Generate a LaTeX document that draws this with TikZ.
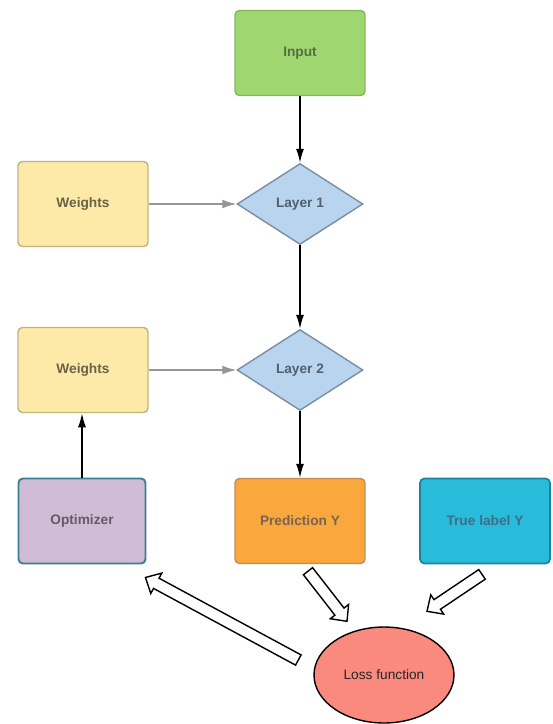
\documentclass[tikz,border=0pt]{standalone}
\usepackage{fontspec}
\setmainfont{Liberation Sans}
\usetikzlibrary{shapes.geometric,arrows.meta,calc}

\definecolor{inputfill}{RGB}{160,214,112}
\definecolor{inputdraw}{RGB}{128,184,92}
\definecolor{inputtext}{RGB}{84,112,62}
\definecolor{wfill}{RGB}{253,233,168}
\definecolor{wdraw}{RGB}{196,178,124}
\definecolor{wtext}{RGB}{104,100,70}
\definecolor{layerfill}{RGB}{184,212,238}
\definecolor{layerdraw}{RGB}{122,142,162}
\definecolor{layertext}{RGB}{82,96,112}
\definecolor{optfill}{RGB}{208,188,212}
\definecolor{optdraw}{RGB}{58,128,148}
\definecolor{opttext}{RGB}{100,90,106}
\definecolor{predfill}{RGB}{250,168,62}
\definecolor{preddraw}{RGB}{196,140,84}
\definecolor{predtext}{RGB}{122,100,80}
\definecolor{truefill}{RGB}{40,188,218}
\definecolor{truedraw}{RGB}{28,130,158}
\definecolor{truetext}{RGB}{60,110,140}
\definecolor{lossfill}{RGB}{250,138,125}
\definecolor{feedgray}{RGB}{150,150,150}

\tikzset{
  lbl/.style={font=\fontsize{7.8}{9}\selectfont\bfseries},
  box/.style={lbl, rectangle, rounded corners=2.5pt, minimum width=2.6cm, minimum height=1.7cm, line width=0.8pt},
  layer/.style={lbl, diamond, aspect=1.55, minimum width=2.52cm, minimum height=1.62cm, inner sep=0pt,
    fill=layerfill, draw=layerdraw, line width=0.8pt, text=layertext},
  flow/.style={-{Latex[length=8pt,width=4.6pt]}, line width=0.9pt},
  feed/.style={-{Latex[length=8pt,width=5pt]}, line width=0.7pt, draw=feedgray, fill=feedgray},
}

% hollow arrow from #1 to #2
\newcommand{\hollowarrow}[2]{%
  \coordinate (ha-s) at (#1);
  \coordinate (ha-t) at (#2);
  \coordinate (ha-h) at ($(ha-t)!7pt!(ha-s)$);
  \draw[fill=white, line width=0.8pt, line join=miter]
    ($(ha-s)!3.3pt!90:(ha-t)$) -- ($(ha-h)!3.3pt!-90:(ha-s)$) -- ($(ha-h)!6.6pt!-90:(ha-s)$)
    -- (ha-t) -- ($(ha-h)!6.6pt!90:(ha-s)$) -- ($(ha-h)!3.3pt!90:(ha-s)$)
    -- ($(ha-s)!3.3pt!-90:(ha-t)$) -- cycle;
}

\begin{document}
\begin{tikzpicture}[x=0.02cm, y=-0.02cm]
\useasboundingbox (0,0) rectangle (553,724);

\node[box, fill=inputfill, draw=inputdraw, text=inputtext] (input) at (300,53) {Input};
\node[layer] (l1) at (300,204) {Layer 1};
\node[box, fill=wfill, draw=wdraw, text=wtext] (w1) at (83,204) {Weights};
\node[layer] (l2) at (300,370) {Layer 2};
\node[box, fill=wfill, draw=wdraw, text=wtext] (w2) at (83,370) {Weights};
\node[box, minimum width=2.54cm, fill=optfill, draw=optdraw, line width=1.1pt, text=opttext] (opt) at (82,521) {Optimizer};
\node[box, fill=predfill, draw=preddraw, text=predtext] (pred) at (300,521) {Prediction Y};
\node[box, fill=truefill, draw=truedraw, line width=1pt, text=truetext] (true) at (485,521) {True label Y};
\node[ellipse, minimum width=2.8cm, minimum height=1.92cm, fill=lossfill, draw, line width=0.8pt,
  font=\fontsize{7.8}{9}\selectfont, text=black!85] (loss) at (384,675) {Loss function};

\draw[flow] (input) -- (l1);
\draw[flow] (l1) -- (l2);
\draw[flow] (l2) -- (pred);
\draw[flow] (opt) -- (opt |- w2.south);
\draw[feed] (w1) -- (l1);
\draw[feed] (w2) -- (l2);

\hollowarrow{$(loss.west)+(-15,-15)$}{$(opt.south east)+(-1,13)$}
\hollowarrow{$(pred.south)+(8,7)$}{$(loss.north)+(-37,-5)$}
\hollowarrow{$(true.south)+(-3,10)$}{$(loss.north)+(43,-15)$}
\end{tikzpicture}
\end{document}
